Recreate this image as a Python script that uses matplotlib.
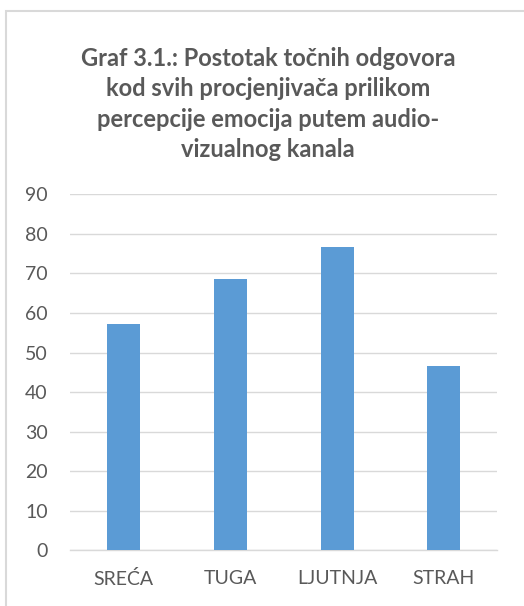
import matplotlib.pyplot as plt
from matplotlib.patches import Rectangle

# data
categories = ["SREĆA", "TUGA", "LJUTNJA", "STRAH"]
values = [57.1, 68.7, 76.8, 46.5]
yticks = [0, 10, 20, 30, 40, 50, 60, 70, 80, 90]

title = ("Graf 3.1.: Postotak točnih odgovora\n"
         "kod svih procjenjivača prilikom\n"
         "percepcije emocija putem audio-\n"
         "vizualnog kanala")

bar_color = "#5B9BD5"
grid_color = "#D9D9D9"
text_color = "#595959"

fig = plt.figure(figsize=(5.24, 6.06), dpi=100)

# chart frame (only top and left edges visible in the crop)
frame = Rectangle((6/524, -0.1), 1.2, 1 - 11/606 + 0.1, transform=fig.transFigure,
                  fill=False, edgecolor=grid_color, linewidth=1.5)
fig.patches.append(frame)

ax = fig.add_axes([70/524, 1 - 550.3/606, 427.3/524, 356/606])

x = range(len(categories))
ax.bar(x, values, width=0.31, color=bar_color, zorder=3)

ax.set_xlim(-0.5, len(categories) - 0.5)
ax.set_ylim(0, 90)
ax.set_yticks(yticks)
ax.set_xticks(list(x))
ax.set_xticklabels(categories)

ax.grid(axis="y", color=grid_color, linewidth=1, zorder=0)
for s in ["top", "right", "left"]:
    ax.spines[s].set_visible(False)
ax.spines["bottom"].set_color(grid_color)
ax.spines["bottom"].set_linewidth(1)
ax.tick_params(axis="both", length=0, colors=text_color, labelsize=14)
ax.tick_params(axis="y", pad=16)
ax.tick_params(axis="x", pad=14)
for lab in ax.get_xticklabels() + ax.get_yticklabels():
    lab.set_family("Lato")

fig.text(0.512, 1 - 104/606, title, ha="center", va="center", fontsize=17,
         fontweight="bold", color=text_color, family="Lato", linespacing=1.4)

plt.savefig("out.png", dpi=100)
